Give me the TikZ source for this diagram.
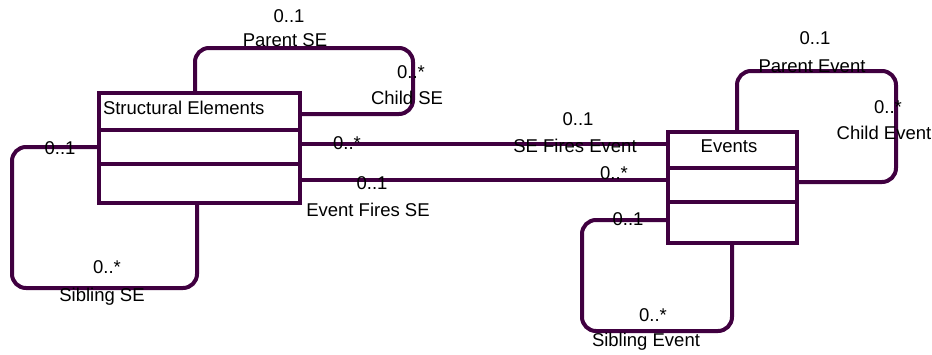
\documentclass[tikz,border=0pt]{standalone}
\usepackage{fontspec}
\setmainfont{Liberation Sans}
\begin{document}
\begin{tikzpicture}[x=1bp,y=-1bp,
  line width=4bp,
  every node/.style={inner sep=0pt,outer sep=0pt},
  box/.style={draw=umlc,line width=4bp,anchor=north west},
  conn/.style={draw=umlc,line width=4bp,rounded corners=14bp},
  lbl/.style={font=\fontsize{18.5bp}{21bp}\selectfont,text=black}]
\definecolor{umlc}{RGB}{64,0,64}
\useasboundingbox (0,0) rectangle (932,354);
% boxes
\node[box,minimum width=201bp,minimum height=110bp] (se) at (99,93) {};
\node[box,minimum width=129bp,minimum height=111bp] (ev) at (668,132) {};
\draw[umlc] (se.west |- 0,130) -- (se.east |- 0,130);
\draw[umlc] (se.west |- 0,164) -- (se.east |- 0,164);
\draw[umlc] (ev.west |- 0,168) -- (ev.east |- 0,168);
\draw[umlc] (ev.west |- 0,202) -- (ev.east |- 0,202);
\node[lbl,anchor=west] (setitle) at (103,108) {Structural Elements};
\node[lbl] (evtitle) at (729,146) {Events};
% Parent/Child SE
\draw[conn] (se.north -| 195,0) -- (195,48) -- (413,48) -- (413,114) -- (se.east |- 0,114);
% Sibling SE
\draw[conn] (se.west |- 0,147) -- (12,147) -- (12,288) -- (197,288) -- (se.south -| 197,0);
% SE fires event / Event fires SE
\draw[umlc] (se.east |- 0,144) -- (ev.west |- 0,144);
\draw[umlc] (se.east |- 0,180) -- (ev.west |- 0,180);
% Parent/Child Event
\draw[conn] (ev.north -| 737,0) -- (737,71) -- (896,71) -- (896,182) -- (ev.east |- 0,182);
% Sibling Event
\draw[conn] (ev.west |- 0,220) -- (582,220) -- (582,331) -- (732,331) -- (ev.south -| 732,0);
% labels
\node[lbl] (l1) at (289,16) {0..1};
\node[lbl] (l2) at (285,40) {Parent SE};
\node[lbl] (l3) at (411,72) {0..*};
\node[lbl] (l4) at (407,98) {Child SE};
\node[lbl] (l5) at (60,148) {0..1};
\node[lbl] (l6) at (347,143) {0..*};
\node[lbl] (l7) at (372,183) {0..1};
\node[lbl] (l8) at (368,210) {Event Fires SE};
\node[lbl] (l9) at (107,267) {0..*};
\node[lbl] (l10) at (102,297) {Sibling SE};
\node[lbl] (l11) at (815,38) {0..1};
\node[lbl] (l12) at (812,66) {Parent Event};
\node[lbl] (l13) at (888,107) {0..*};
\node[lbl] (l14) at (884,133) {Child Event};
\node[lbl] (l15) at (578,119) {0..1};
\node[lbl] (l16) at (575,146) {SE Fires Event};
\node[lbl] (l17) at (614,173) {0..*};
\node[lbl] (l18) at (628,219) {0..1};
\node[lbl] (l19) at (653,315) {0..*};
\node[lbl] (l20) at (646,342) {Sibling Event};
\end{tikzpicture}
\end{document}
